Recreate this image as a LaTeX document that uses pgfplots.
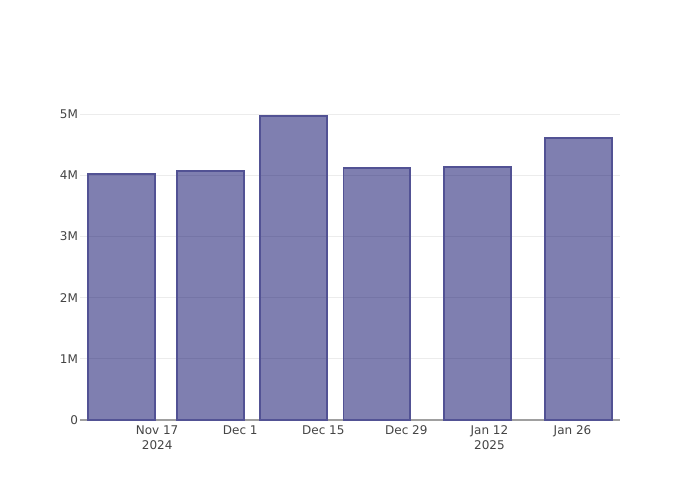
\documentclass[border=0pt]{standalone}
\usepackage{pgfplots}
\pgfplotsset{compat=1.18}
\usepackage{fontspec}
\setmainfont{DejaVu Sans}
\definecolor{barfill}{RGB}{0,0,97}
\definecolor{baredge}{RGB}{82,82,148}
\definecolor{ticktext}{RGB}{68,68,68}
\definecolor{gridc}{RGB}{236,236,236}
\definecolor{axc}{RGB}{160,160,160}
\begin{document}
\begin{tikzpicture}
\path[use as bounding box] (-60pt,-60pt) rectangle (465pt,315pt);
\begin{axis}[
  at={(0pt,0pt)}, anchor=south west,
  scale only axis,
  width=405pt, height=240pt,
  xmin=-13, xmax=78,
  ymin=0, ymax=5.229,
  axis line style={draw=none},
  axis x line*=bottom,
  axis y line*=left,
  x axis line style={draw=axc, line width=0.75pt},
  tick style={draw=none},
  xtick={0,14,28,42,56,70},
  xticklabels={{Nov 17\\2024},{Dec 1},{Dec 15},{Dec 29},{Jan 12\\2025},{Jan 26}},
  xticklabel style={align=center, font=\fontsize{9}{11}\selectfont, text=ticktext, yshift=-1pt},
  ytick={0,1,2,3,4,5},
  yticklabels={0,1M,2M,3M,4M,5M},
  yticklabel style={font=\fontsize{9}{11}\selectfont, text=ticktext, xshift=2pt},
  ymajorgrids,
  major grid style={draw=gridc, line width=0.75pt},
  clip=false,
]
\addplot[ybar, bar width=11.2, fill=barfill, fill opacity=0.5, draw=baredge, line width=1.4pt]
  coordinates {(-6,4.02) (9,4.07) (23,4.967) (37,4.12) (54,4.13) (71,4.61)};
\end{axis}
\end{tikzpicture}
\end{document}
